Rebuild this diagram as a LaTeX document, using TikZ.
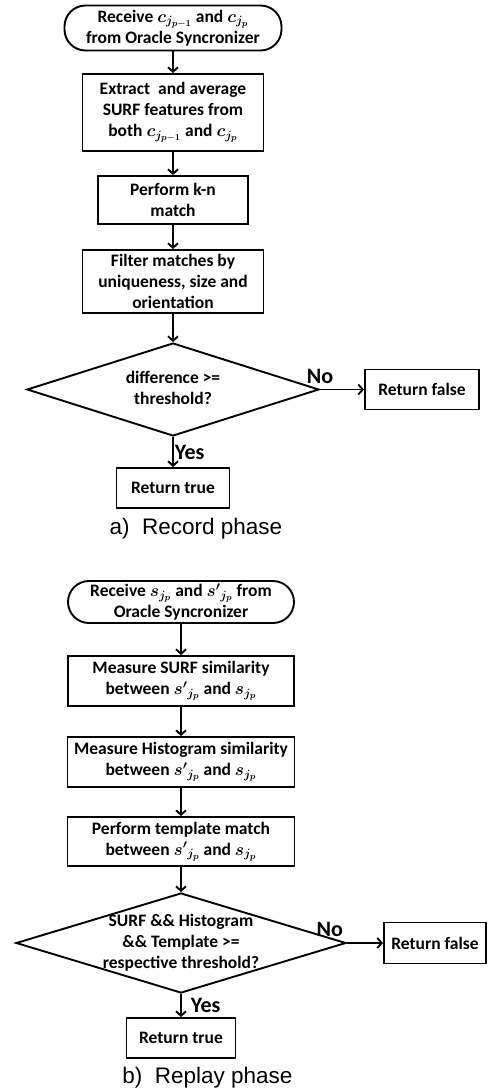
\documentclass[tikz,border=0pt]{standalone}
\usepackage{fontspec}
\setmainfont{Carlito}
\newfontfamily\arialfont{Liberation Sans}
\usetikzlibrary{shapes.geometric,arrows.meta}
\begin{document}
\begin{tikzpicture}[x=1pt,y=-1pt,line width=1.9pt,font=\fontsize{17.5}{21}\selectfont\bfseries\boldmath,>={Straight Barb[length=4.5pt,width=10pt]}]
  \tikzstyle{term}=[draw,rounded corners=21pt,inner sep=0pt,align=center]
  \tikzstyle{proc}=[draw,inner sep=0pt,align=center]
  \tikzstyle{dec}=[draw,diamond,inner sep=0pt]
  \tikzstyle{lab}=[font=\fontsize{22}{26}\selectfont\bfseries,inner sep=1pt]
  \tikzstyle{capt}=[font=\arialfont\fontsize{22.5}{26}\selectfont]

  \useasboundingbox (0,0) rectangle (487,1091);

  % a) record phase
  \node[term,minimum width=217pt,minimum height=45pt] (rcv1) at (173,28) {Receive $c_{j_{p-1}}$ and $c_{j_p}$\\from Oracle Syncronizer};
  \node[proc,minimum width=181pt,minimum height=77pt] (ext) at (173,112.5) {Extract\ \ and average\\SURF features from\\both $c_{j_{p-1}}$ and $c_{j_p}$};
  \node[proc,minimum width=150pt,minimum height=48pt] (knn) at (173,200) {Perform k-n\\match};
  \node[proc,minimum width=181pt,minimum height=63pt] (filt) at (173,281.5) {Filter matches by\\uniqueness, size and\\orientation};
  \node[dec,minimum width=292pt,minimum height=93pt,label=center:{\begin{tabular}{c}difference >=\\threshold?\end{tabular}}] (dec1) at (173,389.5) {};
  \node[proc,minimum width=114pt,minimum height=40pt] (fls1) at (422,389.5) {Return false};
  \node[proc,minimum width=113pt,minimum height=40pt] (tru1) at (173,488) {Return true};
  \node[capt] (cap1) at (196,529) {a)\ \ Record phase};

  \draw[->] (rcv1) -- (ext);
  \draw[->] (ext) -- (knn);
  \draw[->] (knn) -- (filt);
  \draw[->] (filt) -- (dec1);
  \draw[->] (dec1.east) -- node[lab,pos=0,above=4pt] (no1) {No} (fls1.west);
  \draw[->] (dec1.south) -- node[lab,right] (yes1) {Yes} (tru1.north);

  % b) replay phase
  \node[term,minimum width=226pt,minimum height=42pt] (rcv2) at (181,602) {Receive $s_{j_p}$ and ${s'}_{j_p}$ from\\Oracle Syncronizer};
  \node[proc,minimum width=226pt,minimum height=50pt] (surf) at (181,681) {Measure SURF similarity\\between ${s'}_{j_p}$ and $s_{j_p}$};
  \node[proc,minimum width=227pt,minimum height=50pt] (hist) at (181,762) {Measure Histogram similarity\\between ${s'}_{j_p}$ and $s_{j_p}$};
  \node[proc,minimum width=227pt,minimum height=49pt] (tmpl) at (181,841.5) {Perform template match\\between ${s'}_{j_p}$ and $s_{j_p}$};
  \node[dec,minimum width=330pt,minimum height=100pt,label=center:{\begin{tabular}{c}SURF \&\& Histogram\\\&\& Template >=\\respective threshold?\end{tabular}}] (dec2) at (181,943) {};
  \node[proc,minimum width=102pt,minimum height=41pt] (fls2) at (435,943) {Return false};
  \node[proc,minimum width=109pt,minimum height=40pt] (tru2) at (181,1038) {Return true};
  \node[capt] (cap2) at (207.5,1078) {b)\ \ Replay phase};

  \draw[->] (rcv2) -- (surf);
  \draw[->] (surf) -- (hist);
  \draw[->] (hist) -- (tmpl);
  \draw[->] (tmpl) -- (dec2);
  \draw[->] (dec2.east) -- node[lab,pos=0,above left=4pt,xshift=2pt] (no2) {No} (fls2.west);
  \draw[->] (dec2.south) -- node[lab,right=8pt] (yes2) {Yes} (tru2.north);
\end{tikzpicture}
\end{document}
